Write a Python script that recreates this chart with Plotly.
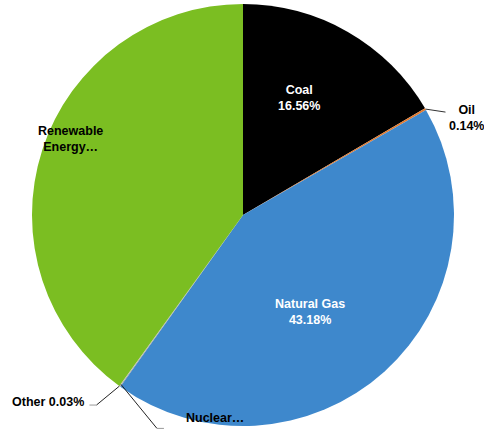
import math
import plotly.graph_objects as go

# ---- data ----
labels = ["Coal", "Oil", "Natural Gas", "Nuclear", "Other", "Renewable Energy"]
values = [16.56, 0.14, 43.18, 0.06, 0.03, 40.03]
colors = ["#000000", "#E37A2E", "#3E88CC", "#9E9E9E", "#C8C8C8", "#7BBE22"]

W, H = 484, 429
CX, CY, R = 243, 215, 211  # pie centre / radius in px (layout)

fig = go.Figure(go.Pie(
    labels=labels, values=values, sort=False, direction="clockwise", rotation=0,
    marker=dict(colors=colors, line=dict(width=0)),
    textinfo="none", hoverinfo="label+percent", showlegend=False,
    domain=dict(x=[(CX - R) / W, (CX + R) / W], y=[1 - (CY + R) / H, 1 - (CY - R) / H]),
))

total = sum(values)
cum = 0
mids = {}
for lab, v in zip(labels, values):
    mids[lab] = (cum + v / 2) / total * 360
    cum += v

def polar(angle_deg, r):
    a = math.radians(angle_deg)
    return CX + r * math.sin(a), CY - r * math.cos(a)

def px2paper(x, y):
    return x / W, 1 - y / H

def pct(lab):
    return values[labels.index(lab)] / total * 100

annotations = []
shapes = []
FONT = "Liberation Sans, Arial, sans-serif"

def add_text(x, y, text, color, xanchor="center"):
    xp, yp = px2paper(x, y)
    annotations.append(dict(x=xp, y=yp, xref="paper", yref="paper", text=text,
                            showarrow=False, xanchor=xanchor, yanchor="middle",
                            font=dict(family=FONT, size=12.5, color=color), align="center"))

def add_line(p0, p1, color):
    x0, y0 = px2paper(*p0)
    x1, y1 = px2paper(*p1)
    shapes.append(dict(type="line", xref="paper", yref="paper", x0=x0, y0=y0, x1=x1, y1=y1,
                       line=dict(color=color, width=1)))

# inside labels: (angle offset, radius fraction)
inside = {"Coal": (-4.1, 0.613, "white", "<b>Coal<br>%.2f%%</b>"),
          "Natural Gas": (7.4, 0.557, "white", "<b>Natural Gas<br>%.2f%%</b>")}
for lab, (da, rf, col, fmt) in inside.items():
    x, y = polar(mids[lab] + da, R * rf)
    add_text(x, y, fmt % pct(lab), col)

x, y = polar(mids["Renewable Energy"] + 5.8, R * 0.895)
add_text(x, y, "<b>Renewable<br>Energy…</b>", "black")

# outside labels with leader lines
ex, ey = polar(mids["Oil"], R)
add_line((ex, ey), (ex + 20, ey + 3), "#333333")
add_text(ex + 41, ey + 9, "<b>Oil<br>%.2f%%</b>" % pct("Oil"), "black")

ex, ey = polar(mids["Other"], R)
add_line((ex, ey), (ex - 23, ey + 19), "#222222")
add_line((ex - 23, ey + 19), (ex - 30, ey + 19), "#999999")
add_text(ex - 33, ey + 15.5, "<b>Other %.2f%%</b>" % pct("Other"), "black", xanchor="right")

ex, ey = polar(mids["Nuclear"], R)
add_line((ex + 1, ey - 2), (ex + 37, ey + 42), "#222222")
add_line((ex + 37, ey + 42), (ex + 44, ey + 42), "#999999")
add_text(ex + 95, ey + 32, "<b>Nuclear…</b>", "black")

fig.update_layout(width=W, height=H, margin=dict(l=0, r=0, t=0, b=0),
                  paper_bgcolor="white", plot_bgcolor="white",
                  annotations=annotations, shapes=shapes)
fig.write_html("out.html", config={"displayModeBar": False},
               post_script="document.body.style.margin='0';document.body.style.overflow='hidden';")
